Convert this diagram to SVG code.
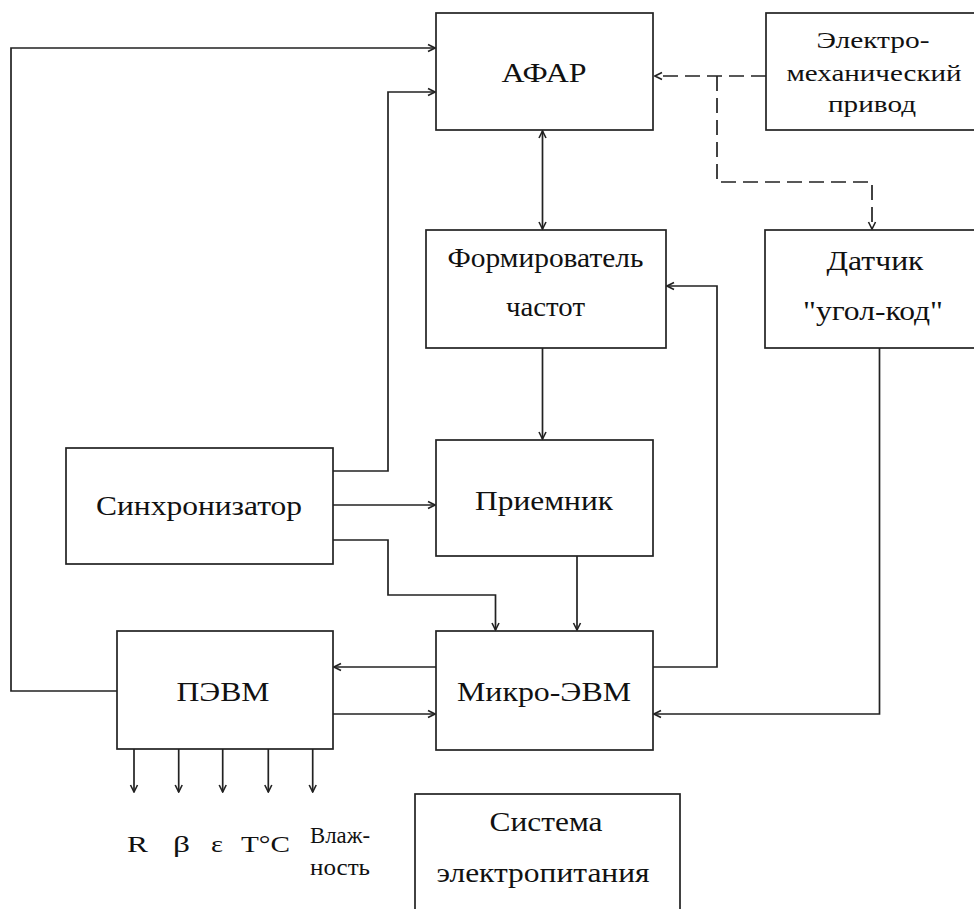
<svg xmlns="http://www.w3.org/2000/svg" width="974" height="909" viewBox="0 0 974 909">
<style>
.box{fill:#fff;stroke:#222;stroke-width:1.7}
.t{font-family:"Liberation Serif","DejaVu Serif",serif;font-size:28px;fill:#111;text-anchor:middle}
.m{font-family:"Liberation Serif","DejaVu Serif",serif;font-size:24px;fill:#111;text-anchor:middle}
.s{font-family:"Liberation Serif","DejaVu Serif",serif;font-size:24px;fill:#111}
.ln{fill:none;stroke:#222;stroke-width:1.7;marker-end:url(#ah)}
.dash{fill:none;stroke:#222;stroke-width:1.7;stroke-dasharray:15 7}
</style>
<defs>
<marker id="ah" viewBox="0 0 10 10" refX="9" refY="5" markerWidth="10" markerHeight="10" markerUnits="userSpaceOnUse" orient="auto">
<path d="M2,1.5 L9,5 L2,8.5" fill="none" stroke="#222" stroke-width="1.6"/>
</marker>
<marker id="ahs" viewBox="0 0 10 10" refX="9" refY="5" markerWidth="10" markerHeight="10" markerUnits="userSpaceOnUse" orient="auto-start-reverse">
<path d="M2,1.5 L9,5 L2,8.5" fill="none" stroke="#222" stroke-width="1.6"/>
</marker>
</defs>
<rect width="974" height="909" fill="#fff"/>

<g id="connectors">
<polyline class="ln" points="117,691 11,691 11,48 435,48"/>
<polyline class="ln" points="333,471 388,471 388,92 435,92"/>
<line x1="542.5" y1="131" x2="542.5" y2="229" stroke="#222" stroke-width="1.7" marker-start="url(#ahs)" marker-end="url(#ahs)"/>
<line class="dash" x1="766" y1="76" x2="655" y2="76" marker-end="url(#ah)"/>
<polyline class="dash" points="717,76 717,182 872,182 872,229" marker-end="url(#ah)"/>
<line class="ln" x1="542.5" y1="348" x2="542.5" y2="439"/>
<polyline class="ln" points="653,667 717,667 717,286 667,286"/>
<line class="ln" x1="333" y1="505" x2="435" y2="505"/>
<polyline class="ln" points="333,540 388,540 388,595 495.5,595 495.5,630"/>
<line class="ln" x1="577" y1="556" x2="577" y2="630"/>
<line class="ln" x1="436" y1="667" x2="334" y2="667"/>
<line class="ln" x1="333" y1="714" x2="435" y2="714"/>
<polyline class="ln" points="879.5,348 879.5,714 654,714"/>
<line class="ln" x1="134" y1="749" x2="134" y2="792"/>
<line class="ln" x1="178.7" y1="749" x2="178.7" y2="792"/>
<line class="ln" x1="222.7" y1="749" x2="222.7" y2="792"/>
<line class="ln" x1="268.3" y1="749" x2="268.3" y2="792"/>
<line class="ln" x1="312.7" y1="749" x2="312.7" y2="792"/>
</g>

<g id="afar">
<rect class="box" x="436" y="13" width="217" height="117"/>
<text class="t" x="544" y="82" textLength="85" lengthAdjust="spacingAndGlyphs">АФАР</text>
</g>
<g id="privod">
<rect class="box" x="766" y="13" width="220" height="117"/>
<text class="m" x="873" y="48" textLength="113" lengthAdjust="spacingAndGlyphs">Электро-</text>
<text class="m" x="874" y="81" textLength="175" lengthAdjust="spacingAndGlyphs">механический</text>
<text class="m" x="872" y="112" textLength="88" lengthAdjust="spacingAndGlyphs">привод</text>
</g>
<g id="formirovatel">
<rect class="box" x="426" y="230" width="240" height="118"/>
<text class="t" x="545.5" y="267" textLength="196" lengthAdjust="spacingAndGlyphs">Формирователь</text>
<text class="t" x="545.5" y="316" textLength="79" lengthAdjust="spacingAndGlyphs">частот</text>
</g>
<g id="datchik">
<rect class="box" x="765" y="230" width="220" height="118"/>
<text class="t" x="875" y="270" textLength="97" lengthAdjust="spacingAndGlyphs">Датчик</text>
<text class="t" x="873" y="320" textLength="140" lengthAdjust="spacingAndGlyphs">"угол-код"</text>
</g>
<g id="sinhronizator">
<rect class="box" x="66" y="448" width="267" height="116"/>
<text class="t" x="199" y="515" textLength="206" lengthAdjust="spacingAndGlyphs">Синхронизатор</text>
</g>
<g id="priemnik">
<rect class="box" x="436" y="440" width="217" height="116"/>
<text class="t" x="544" y="510" textLength="138" lengthAdjust="spacingAndGlyphs">Приемник</text>
</g>
<g id="pevm">
<rect class="box" x="117" y="631" width="216" height="118"/>
<text class="t" x="223" y="701" textLength="93" lengthAdjust="spacingAndGlyphs">ПЭВМ</text>
</g>
<g id="mikro">
<rect class="box" x="436" y="631" width="217" height="119"/>
<text class="t" x="544" y="701" textLength="174" lengthAdjust="spacingAndGlyphs">Микро-ЭВМ</text>
</g>
<g id="sistema">
<rect class="box" x="415" y="794" width="265" height="130"/>
<text class="t" x="546" y="831" textLength="113" lengthAdjust="spacingAndGlyphs">Система</text>
<text class="t" x="543" y="882" textLength="213" lengthAdjust="spacingAndGlyphs">электропитания</text>
</g>
<g id="outputs">
<text class="s" x="127" y="852" font-size="28" textLength="21" lengthAdjust="spacingAndGlyphs">R</text>
<text class="s" x="173" y="852" font-size="28" textLength="17" lengthAdjust="spacingAndGlyphs">β</text>
<text class="s" x="211" y="852" font-size="28" textLength="12" lengthAdjust="spacingAndGlyphs">ε</text>
<text class="s" x="241" y="852" font-size="28" textLength="49" lengthAdjust="spacingAndGlyphs">T°C</text>
<text class="s" x="310" y="843" textLength="60" lengthAdjust="spacingAndGlyphs">Влаж-</text>
<text class="s" x="310" y="875" textLength="60" lengthAdjust="spacingAndGlyphs">ность</text>
</g>
</svg>
